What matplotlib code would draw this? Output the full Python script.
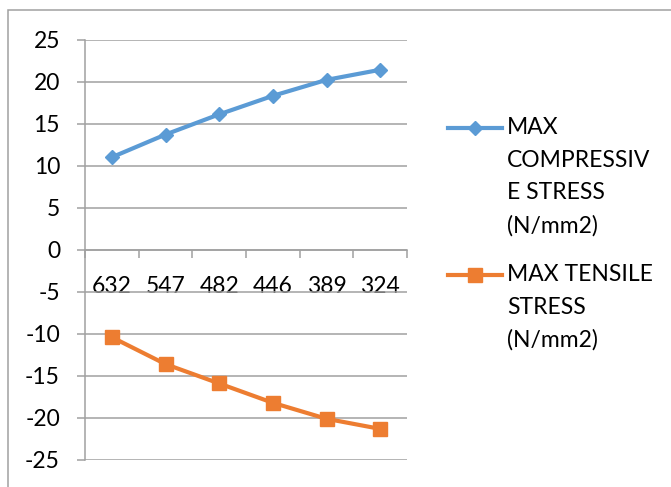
import matplotlib
matplotlib.use("Agg")
import matplotlib.pyplot as plt
from matplotlib.lines import Line2D
from matplotlib.patches import Rectangle

# Stress values against section size
sections = ["632", "547", "482", "446", "389", "324"]
compressive = [11.0, 13.7, 16.1, 18.3, 20.2, 21.4]
tensile = [-10.4, -13.6, -15.9, -18.2, -20.1, -21.3]
series_labels = ["MAX\nCOMPRESSIV\nE STRESS\n(N/mm2)",
                 "MAX TENSILE\nSTRESS\n(N/mm2)"]
y_ticks = list(range(-25, 30, 5))

BLUE = "#5B9BD5"
ORANGE = "#ED7D31"
GRID = "#A0A0A0"
FONT = "Lato"
FS = 16.5

W, H = 671, 487
fig = plt.figure(figsize=(W / 100, H / 100), dpi=100)
plt.rcParams["font.family"] = FONT

def px(x, y):
    return x / W, 1 - y / H

ax = fig.add_axes([85 / W, 1 - 460 / H, (407 - 85) / W, (460 - 39.5) / H])

x = list(range(len(sections)))
ax.plot(x, compressive, color=BLUE, lw=3, marker="D", ms=7.5, zorder=3)
ax.plot(x, tensile, color=ORANGE, lw=3, marker="s", ms=10, zorder=3)

ax.set_xlim(-0.5, len(sections) - 0.5)
ax.set_ylim(-25, 25)
ax.set_yticks(y_ticks)
ax.set_yticklabels([str(v) for v in y_ticks])
ax.yaxis.grid(True, color=GRID, lw=1.1)
ax.set_axisbelow(True)

for s in ["top", "right"]:
    ax.spines[s].set_visible(False)
ax.spines["bottom"].set_position(("data", 0))
ax.spines["bottom"].set_color(GRID)
ax.spines["bottom"].set_linewidth(1.1)
ax.spines["left"].set_color(GRID)
ax.spines["left"].set_linewidth(1.1)

# category boundaries carry the tick marks, centres carry the labels
ax.set_xticks([i - 0.5 for i in range(len(sections) + 1)])
ax.set_xticklabels([])
ax.set_xticks(x, minor=True)
ax.set_xticklabels(sections, minor=True)
ax.tick_params(axis="x", which="major", direction="out", length=5.5,
               color=GRID, width=1.1)
ax.tick_params(axis="x", which="minor", length=0, pad=19, labelsize=FS)
ax.tick_params(axis="y", direction="out", length=6, color=GRID, width=1.1,
               pad=12, labelsize=FS)

# chart-area frame
fig.add_artist(Rectangle(px(8, 600), 2, (600 - 10) / H, transform=fig.transFigure,
                         fill=False, edgecolor=GRID, lw=1.1))

# legend
entries = [(BLUE, "D", 7.5, 128, series_labels[0]),
           (ORANGE, "s", 10, 275, series_labels[1])]
for color, mk, ms, yc, label in entries:
    x0, y0 = px(448, yc)
    x1, _ = px(502, yc)
    xm, _ = px(475, yc)
    fig.add_artist(Line2D([x0, x1], [y0, y0], color=color, lw=3,
                          transform=fig.transFigure))
    fig.add_artist(Line2D([xm], [y0], color=color, marker=mk, ms=ms,
                          transform=fig.transFigure))
    tx, ty = px(507, yc - 11)
    fig.text(tx, ty, label, fontsize=FS, va="top", ha="left",
             linespacing=1.68, color="black")

fig.savefig("out.png", dpi=100)
